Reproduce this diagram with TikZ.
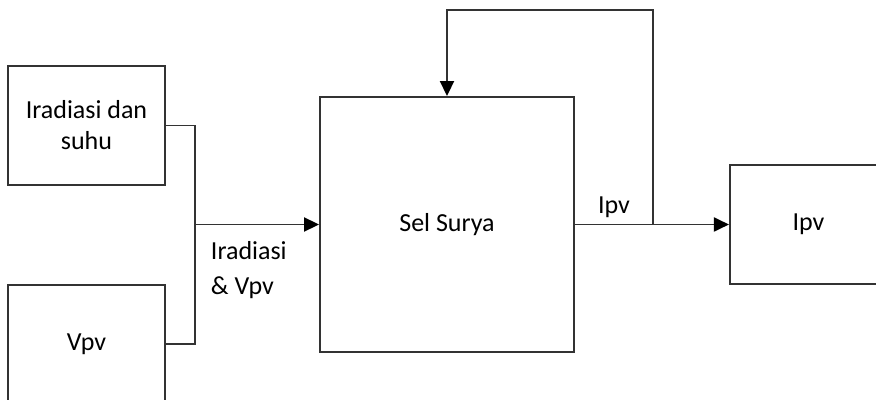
\documentclass[tikz,border=0pt]{standalone}
\usepackage{fontspec}
\setmainfont{Carlito}
\usetikzlibrary{arrows.meta,positioning,calc}

\begin{document}
\begin{tikzpicture}[
    x=0.5pt, y=-0.5pt,
    line width=0.95pt,
    blok/.style={draw=black!80, rectangle, minimum width=78.5pt, minimum height=59.5pt, align=center,
        font=\fontsize{13}{15.5}\selectfont, inner sep=0pt},
    sel/.style={blok, minimum width=127pt, minimum height=127.5pt},
    arrow/.style={draw=black!80, -{Triangle[length=7.5pt,width=7pt,fill=black,color=black]}},
    wire/.style={draw=black!80},
    lbl/.style={font=\fontsize{13}{17.5}\selectfont, align=left, inner sep=0pt}
]
    \clip (0,0) rectangle (876,400);

    \node[blok] (irr) at (86.5,125.5) {Iradiasi dan\\suhu};
    \node[blok, below=49pt of irr] (vpv) {Vpv};

    \node[sel] (sel) at (447,224.5) {Sel Surya};
    \node[blok, right=77pt of sel] (ipv) {Ipv};

    % titik cabang masukan dan umpan balik
    \coordinate (join) at (195,224.5);
    \coordinate (tap) at ($(sel.east)+(39pt,0)$);
    \coordinate (top) at (447,10);

    \draw[wire] (irr.east) -| (join);
    \draw[wire] (vpv.east) -| (join);
    \draw[arrow] (join) -- (sel.west);
    \node[lbl, anchor=north west] (lblin) at ([shift={(7.5pt,-8pt)}]join) {Iradiasi\\\& Vpv};

    \draw[arrow] (sel.east) -- (ipv.west);
    \node[lbl, above=3pt] (lblout) at ($(sel.east)!0.5!(tap)$) {Ipv};
    \draw[arrow] (tap) |- (top) -- (sel.north);
\end{tikzpicture}
\end{document}
